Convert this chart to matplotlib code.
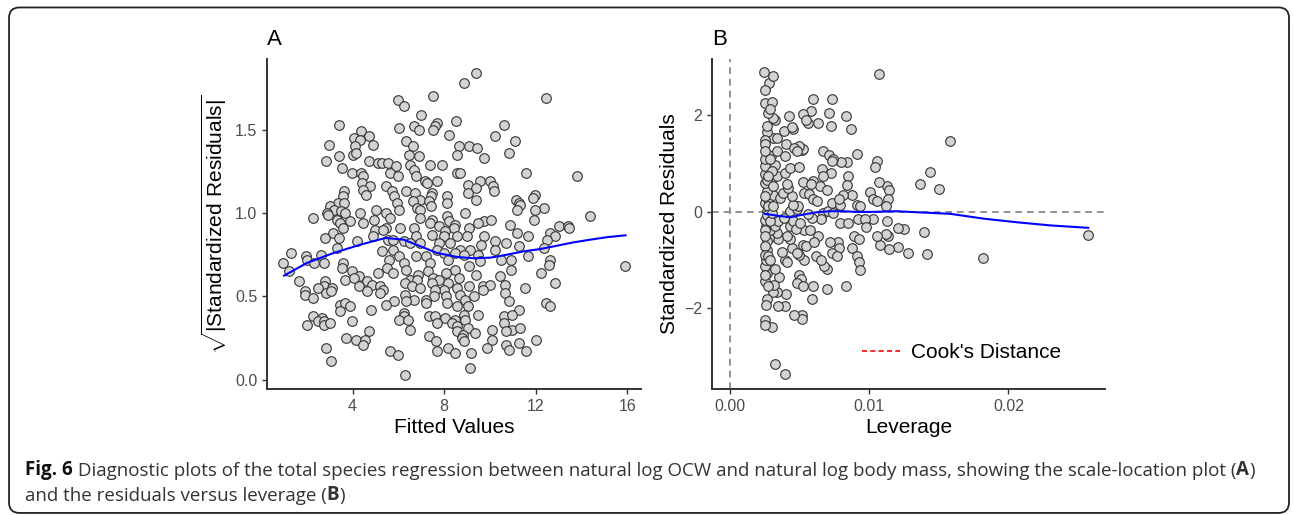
import matplotlib
matplotlib.use("Agg")
import matplotlib.pyplot as plt
from matplotlib.patches import FancyBboxPatch

# Panel A: scale-location (fitted value, sqrt|std residual|)
scale_loc_pts = [
	(9.41, 1.84), (8.85, 1.78), (12.44, 1.69), (7.50, 1.70), (5.97, 1.68), (6.23, 1.64), (6.99, 1.59),
	(3.39, 1.53), (8.52, 1.55), (10.60, 1.53), (7.69, 1.54), (7.62, 1.52), (6.67, 1.52), (6.89, 1.50),
	(6.01, 1.51), (7.51, 1.50), (4.36, 1.49), (4.04, 1.45), (4.73, 1.46), (4.34, 1.44), (10.24, 1.46),
	(8.23, 1.47), (2.98, 1.41), (11.11, 1.43), (4.90, 1.41), (6.35, 1.43), (8.64, 1.40), (9.07, 1.40),
	(9.44, 1.39), (4.12, 1.40), (6.62, 1.40), (10.82, 1.36), (8.57, 1.35), (6.45, 1.35), (6.89, 1.34),
	(3.40, 1.34), (4.01, 1.35), (4.15, 1.36), (9.76, 1.33), (2.85, 1.31), (4.70, 1.31), (5.09, 1.30),
	(5.28, 1.30), (5.53, 1.30), (5.90, 1.28), (6.52, 1.29), (7.37, 1.29), (7.89, 1.29), (3.53, 1.27),
	(6.67, 1.26), (5.65, 1.24), (3.97, 1.24), (4.36, 1.24), (8.57, 1.24), (8.69, 1.24), (11.59, 1.24),
	(4.47, 1.22), (5.97, 1.22), (6.77, 1.22), (13.81, 1.22), (7.15, 1.19), (7.69, 1.19), (10.02, 1.19),
	(9.55, 1.19), (4.42, 1.18), (7.27, 1.18), (3.61, 1.13), (4.74, 1.16), (4.47, 1.14), (5.47, 1.16),
	(9.03, 1.17), (10.14, 1.16), (9.41, 1.15), (10.17, 1.13), (5.71, 1.13), (6.35, 1.13), (4.58, 1.11),
	(6.74, 1.12), (7.47, 1.12), (9.06, 1.12), (11.14, 1.08), (11.96, 1.11), (3.57, 1.10), (5.80, 1.10),
	(7.44, 1.10), (8.13, 1.10), (6.96, 1.08), (11.87, 1.09), (11.25, 1.06), (11.30, 1.05), (8.13, 1.06),
	(9.41, 1.08), (3.34, 1.06), (3.64, 1.06), (5.94, 1.06), (6.64, 1.07), (7.32, 1.07), (3.02, 1.04),
	(7.42, 1.04), (6.80, 1.03), (3.17, 1.02), (2.88, 1.00), (3.50, 1.01), (4.31, 1.00), (5.02, 1.02),
	(5.47, 1.00), (6.01, 1.02), (6.96, 1.02), (11.16, 1.02), (12.38, 1.03), (11.96, 1.02), (14.39, 0.98),
	(2.27, 0.97), (3.66, 1.00), (2.92, 0.99), (5.62, 0.97), (6.93, 0.97), (8.13, 0.98), (8.90, 1.00),
	(3.31, 0.96), (3.87, 0.95), (4.92, 0.96), (7.47, 0.96), (9.73, 0.95), (9.47, 0.94), (10.06, 0.96),
	(11.92, 0.96), (3.46, 0.94), (4.47, 0.94), (7.40, 0.94), (8.20, 0.95), (8.49, 0.93), (10.89, 0.93),
	(13.01, 0.92), (13.42, 0.92), (13.47, 0.91), (3.56, 0.91), (5.47, 0.91), (6.08, 0.91), (6.70, 0.91),
	(7.76, 0.92), (8.42, 0.91), (9.07, 0.91), (3.15, 0.88), (4.99, 0.90), (5.33, 0.90), (8.05, 0.89),
	(11.18, 0.88), (12.64, 0.88), (11.67, 0.86), (2.80, 0.85), (3.39, 0.85), (4.89, 0.86), (5.55, 0.84),
	(5.76, 0.84), (6.78, 0.86), (7.47, 0.87), (8.01, 0.86), (8.56, 0.86), (9.00, 0.86), (9.73, 0.86),
	(12.82, 0.86), (4.19, 0.83), (10.24, 0.83), (10.68, 0.82), (12.47, 0.84), (6.23, 0.83), (6.52, 0.82),
	(6.93, 0.82), (7.76, 0.82), (8.27, 0.82), (9.60, 0.81), (3.31, 0.79), (5.78, 0.78), (7.69, 0.78),
	(8.68, 0.78), (9.12, 0.78), (10.21, 0.78), (11.25, 0.80), (12.38, 0.79), (1.32, 0.76), (2.62, 0.75),
	(5.28, 0.77), (7.98, 0.76), (8.49, 0.76), (8.85, 0.75), (9.48, 0.75), (11.65, 0.74), (1.97, 0.74),
	(5.57, 0.72), (6.01, 0.74), (6.78, 0.74), (7.21, 0.74), (8.15, 0.72), (10.50, 0.72), (10.92, 0.72),
	(12.62, 0.72), (0.98, 0.70), (2.00, 0.72), (3.56, 0.70), (2.76, 0.70), (6.23, 0.70), (7.37, 0.70),
	(9.07, 0.68), (9.55, 0.71), (12.58, 0.69), (15.88, 0.68), (2.30, 0.70), (3.53, 0.67), (5.50, 0.67),
	(6.35, 0.66), (7.29, 0.65), (8.49, 0.66), (10.93, 0.66), (1.24, 0.65), (3.97, 0.65), (5.78, 0.64),
	(5.09, 0.64), (6.86, 0.63), (8.07, 0.64), (9.40, 0.63), (12.21, 0.64), (4.26, 0.62), (6.52, 0.60),
	(7.51, 0.61), (10.45, 0.62), (3.65, 0.60), (4.04, 0.61), (7.76, 0.60), (8.64, 0.61), (1.64, 0.59),
	(2.80, 0.59), (4.63, 0.59), (6.30, 0.58), (6.81, 0.60), (8.15, 0.58), (12.83, 0.58), (4.85, 0.57),
	(7.47, 0.58), (2.73, 0.56), (4.26, 0.56), (5.18, 0.56), (6.59, 0.56), (6.96, 0.55), (8.01, 0.54),
	(8.56, 0.55), (9.07, 0.56), (9.68, 0.56), (10.00, 0.57), (10.64, 0.57), (11.51, 0.55), (2.48, 0.55),
	(3.10, 0.55), (5.33, 0.54), (7.59, 0.54), (9.70, 0.54), (1.90, 0.53), (4.64, 0.53), (2.83, 0.52),
	(3.07, 0.53), (5.21, 0.52), (6.30, 0.51), (7.54, 0.50), (8.06, 0.50), (8.71, 0.51), (9.32, 0.50),
	(10.66, 0.52), (1.93, 0.51), (6.67, 0.48), (7.19, 0.48), (8.93, 0.48), (2.28, 0.49), (12.43, 0.46),
	(10.82, 0.47), (5.82, 0.47), (6.35, 0.47), (8.14, 0.46), (3.43, 0.45), (3.68, 0.46), (3.90, 0.44),
	(5.47, 0.45), (7.19, 0.46), (8.56, 0.44), (9.04, 0.44), (12.62, 0.44), (3.46, 0.41), (4.82, 0.42),
	(6.23, 0.40), (11.26, 0.42), (2.28, 0.38), (2.67, 0.37), (8.87, 0.39), (9.49, 0.39), (6.23, 0.38),
	(7.34, 0.38), (8.03, 0.37), (7.59, 0.38), (10.62, 0.38), (10.95, 0.39), (2.48, 0.35), (2.77, 0.35),
	(3.97, 0.35), (6.04, 0.36), (6.42, 0.36), (8.46, 0.36), (8.90, 0.36), (1.99, 0.33), (2.74, 0.33),
	(3.00, 0.34), (7.69, 0.34), (8.34, 0.34), (10.60, 0.34), (8.57, 0.32), (9.04, 0.31), (10.10, 0.30),
	(10.97, 0.30), (11.30, 0.31), (6.49, 0.30), (4.73, 0.29), (10.68, 0.29), (9.35, 0.28), (8.56, 0.29),
	(8.83, 0.27), (7.34, 0.26), (3.72, 0.25), (4.16, 0.24), (4.55, 0.24), (8.76, 0.25), (11.99, 0.24),
	(10.10, 0.24), (8.85, 0.23), (7.63, 0.23), (4.47, 0.21), (10.68, 0.21), (11.27, 0.22), (2.83, 0.19),
	(9.87, 0.19), (8.15, 0.19), (10.82, 0.18), (11.59, 0.17), (5.65, 0.17), (7.69, 0.17), (5.97, 0.15),
	(8.49, 0.16), (9.15, 0.16), (3.07, 0.11), (9.12, 0.07), (6.27, 0.03),
]

# loess smooth drawn on panel A
smooth_a_x = [1.01, 2.0, 3.17, 4.34, 5.43, 6.23, 6.96, 7.69, 8.56, 9.29, 10.02, 10.75, 11.48, 12.21, 12.94, 13.66, 14.39, 15.12, 15.92]
smooth_a_y = [0.624, 0.70, 0.76, 0.81, 0.85, 0.84, 0.80, 0.76, 0.736, 0.728, 0.732, 0.75, 0.77, 0.784, 0.804, 0.824, 0.84, 0.855, 0.866]

# Panel B: residuals vs leverage (leverage, std residual)
leverage_pts = [
	(0.01074, 2.85), (0.02573, -0.47), (0.01818, -0.955), (0.01583, 1.48), (0.01434, 0.83), (0.01367, 0.58),
	(0.01501, 0.48), (0.01391, -0.415), (0.01415, -0.865), (0.01278, -0.85), (0.01247, -0.35), (0.01204, -0.34),
	(0.01211, -0.73), (0.01146, -0.77), (0.01132, -0.19), (0.01139, -0.505), (0.01122, -0.46), (0.01079, -0.69),
	(0.01055, -0.49), (0.01031, -0.145), (0.01127, 0.53), (0.01146, 0.46), (0.01139, 0.26), (0.01122, 0.13),
	(0.01074, 0.62), (0.01055, 1.05), (0.01043, 0.93), (0.01007, 0.41), (0.01026, 0.26), (0.01055, 0.22),
	(0.00916, 1.19), (0.00868, 1.71), (0.00835, 1.99), (0.00839, 1.03), (0.00796, 1.03), (0.00847, 0.74),
	(0.00844, 0.55), (0.00875, 0.36), (0.00911, 0.15), (0.00935, 0.12), (0.00923, -0.14), (0.00971, -0.14),
	(0.00978, -0.31), (0.00892, -0.505), (0.00930, -0.56), (0.00880, -0.75), (0.00911, -0.92), (0.00930, -1.04),
	(0.00935, -1.21), (0.00835, -1.54), (0.00791, -0.24), (0.00851, -0.24), (0.00779, -0.63), (0.00787, -0.75),
	(0.00719, -0.63), (0.00731, -0.85), (0.00767, -0.92), (0.00700, -1.60), (0.00695, -1.18), (0.00676, -1.13),
	(0.00619, -0.92), (0.00652, -0.99), (0.00635, -0.49), (0.00671, -0.02), (0.00652, -0.145), (0.00707, 0.01),
	(0.00739, -0.02), (0.00731, 0.19), (0.00791, 0.15), (0.00815, 0.36), (0.00787, 0.26), (0.00731, 2.33),
	(0.00712, 2.04), (0.00724, 1.79), (0.00635, 1.85), (0.00595, 2.33), (0.00583, 2.10), (0.00564, 1.85),
	(0.00528, 2.03), (0.00516, 1.29), (0.00528, 1.31), (0.00499, 1.36), (0.00667, 1.27), (0.00715, 1.17),
	(0.00743, 1.09), (0.00731, 1.05), (0.00660, 0.88), (0.00726, 0.80), (0.00671, 0.75), (0.00600, 0.65),
	(0.00647, 0.53), (0.00695, 0.46), (0.00523, 0.62), (0.00583, 0.57), (0.00533, 0.39), (0.00571, 0.38),
	(0.00600, 0.26), (0.00624, 0.22), (0.00588, -0.125), (0.00564, -0.035), (0.00533, -0.37), (0.00576, -0.37),
	(0.00523, -0.68), (0.00547, -0.70), (0.00604, -0.63), (0.00533, -0.99), (0.00499, -0.89), (0.00499, -1.30),
	(0.00508, -1.40), (0.00480, -1.47), (0.00523, -1.54), (0.00595, -1.54), (0.00588, -1.81), (0.00516, -2.13),
	(0.00516, -2.21), (0.00460, -2.13), (0.00396, -1.94), (0.00348, -1.94), (0.00403, -1.70), (0.00341, -1.67),
	(0.00312, -1.65), (0.00324, -3.16), (0.00396, -3.36), (0.00300, -2.39), (0.00252, -2.24), (0.00252, -2.34),
	(0.00264, -1.81), (0.00259, -1.92), (0.00252, -1.44), (0.00264, -1.27), (0.00252, -1.13), (0.00259, -0.99),
	(0.00355, -1.34), (0.00324, -1.18), (0.00317, -1.51), (0.00396, -0.99), (0.00412, -1.04), (0.00372, -0.84),
	(0.00444, -0.75), (0.00480, -0.85), (0.00432, -0.57), (0.00408, -0.49), (0.00348, -0.57), (0.00336, -0.44),
	(0.00283, -0.54), (0.00264, -0.78), (0.00269, -0.61), (0.00288, -0.37), (0.00259, -0.30), (0.00324, -0.30),
	(0.00348, -0.19), (0.00432, -0.30), (0.00456, -0.19), (0.00475, -0.35), (0.00504, -0.24), (0.00388, -0.125),
	(0.00432, 0.01), (0.00480, 0.05), (0.00492, 0.12), (0.00451, 0.15), (0.00252, -0.16), (0.00264, 0.01),
	(0.00252, 0.19), (0.00276, 0.26), (0.00307, 0.36), (0.00360, 0.29), (0.00384, 0.39), (0.00444, 0.33),
	(0.00415, 0.50), (0.00408, 0.57), (0.00264, 0.43), (0.00252, 0.60), (0.00300, 0.71), (0.00341, 0.74),
	(0.00252, 0.78), (0.00252, 0.95), (0.00269, 1.19), (0.00293, 1.16), (0.00252, 1.09), (0.00324, 0.98),
	(0.00396, 0.81), (0.00432, 0.91), (0.00496, 0.93), (0.00336, 1.26), (0.00403, 1.40), (0.00396, 1.16),
	(0.00460, 1.33), (0.00480, 1.26), (0.00312, 1.54), (0.00341, 1.54), (0.00391, 1.67), (0.00456, 1.72),
	(0.00444, 1.76), (0.00427, 1.99), (0.00547, 1.90), (0.00264, 1.65), (0.00269, 1.79), (0.00252, 1.50),
	(0.00252, 1.40), (0.00252, 1.26), (0.00324, 1.90), (0.00312, 1.95), (0.00276, 2.04), (0.00252, 2.26),
	(0.00300, 2.28), (0.00283, 2.68), (0.00307, 2.82), (0.00247, 2.89), (0.00252, 2.53), (0.00288, 2.14),
	(0.00252, -0.37), (0.00252, -0.50), (0.00252, -0.71), (0.00252, -0.89), (0.00264, 0.67), (0.00252, 0.33),
	(0.00276, 0.12), (0.00264, -0.06), (0.00288, -0.19), (0.00276, -0.92), (0.00252, -1.31), (0.00276, -1.54),
	(0.00288, -0.99), (0.00300, -0.02), (0.00312, 0.12), (0.00300, 0.84), (0.00288, 1.09), (0.00276, 0.74),
	(0.00312, 0.53),
]

smooth_b_x = [0.00252, 0.00336, 0.00432, 0.00528, 0.00624, 0.00719, 0.00815, 0.00911, 0.01007, 0.01103, 0.01199, 0.01295, 0.01439, 0.01583, 0.01823, 0.02062, 0.02302, 0.02573]
smooth_b_y = [-0.04, -0.076, -0.11, -0.055, -0.007, 0.014, 0.014, 0.0, 0.0, 0.007, 0.014, 0.0, -0.02, -0.04, -0.14, -0.215, -0.28, -0.33]

caption_line1 = ' Diagnostic plots of the total species regression between natural log OCW and natural log body mass, showing the scale-location plot ('
caption_line2 = 'and the residuals versus leverage ('

plt.rcParams['font.family'] = ['Liberation Sans', 'DejaVu Sans']
plt.rcParams['mathtext.fontset'] = 'custom'
plt.rcParams['mathtext.rm'] = 'Liberation Sans'

TICK_GREY = '#4d4d4d'
AXIS_DARK = '#333333'
CAP_FONT = ['Open Sans', 'DejaVu Sans']
CAP_SIZE = 13.5
CAP_COLOR = '#333333'


def style_axes(ax):
	for side in ['top', 'right']:
		ax.spines[side].set_visible(False)
	for side in ['left', 'bottom']:
		ax.spines[side].set_color(AXIS_DARK)
		ax.spines[side].set_linewidth(1.4)
	ax.tick_params(colors=AXIS_DARK, labelcolor=TICK_GREY, labelsize=11.5, length=3.5, width=1.0)


def scatter(ax, pts):
	xs = [p[0] for p in pts]
	ys = [p[1] for p in pts]
	ax.scatter(xs, ys, s=48, facecolor='#d3d3d3', edgecolor='#333333', linewidths=0.8, zorder=3)


def chain_text(prev, pieces):
	# put each piece right after the previous one on the same line
	for txt, w in pieces:
		prev = plt.annotate(txt, xy=(1, 0), xycoords=prev, fontsize=CAP_SIZE, fontweight=w,
			family=CAP_FONT, color=CAP_COLOR, va='bottom', ha='left', annotation_clip=False)
	return prev


fig = plt.figure(figsize=(12.93, 5.15), dpi=100)

# rounded border round the whole figure
border = FancyBboxPatch((0.0070, 0.004), 0.9899, 0.9815, boxstyle="round,pad=0,rounding_size=0.008",
	mutation_aspect=1293 / 515, transform=fig.transFigure, facecolor='none', edgecolor='#222222', linewidth=1.3)
fig.patches.append(border)

# panel A
axA = fig.add_axes([0.2065, 0.2447, 0.2893, 0.6408])
style_axes(axA)
scatter(axA, scale_loc_pts)
axA.plot(smooth_a_x, smooth_a_y, color='#0000ff', lw=1.5, zorder=4)
axA.set_xlim(0.26, 16.6)
axA.set_ylim(-0.056, 1.924)
axA.set_xticks([4, 8, 12, 16])
axA.set_yticks([0.0, 0.5, 1.0, 1.5])
axA.set_yticklabels(['0.0', '0.5', '1.0', '1.5'])
axA.set_xlabel('Fitted Values', fontsize=15, labelpad=3)
axA.set_ylabel(r'$\sqrt{|\mathrm{Standardized\ Residuals}|}$', fontsize=15, labelpad=4)
axA.set_title('A', loc='left', fontsize=16, pad=10)

# panel B
axB = fig.add_axes([0.5507, 0.2447, 0.304, 0.6408])
style_axes(axB)
axB.axhline(0, color='#808080', lw=1.2, ls=(0, (4, 3)), zorder=1)
axB.axvline(0, color='#808080', lw=1.2, ls=(0, (4, 3)), zorder=1)
scatter(axB, leverage_pts)
axB.plot(smooth_b_x, smooth_b_y, color='#0000ff', lw=1.5, zorder=4)
axB.plot([], [], color='red', ls=(0, (3, 2)), lw=1.2, label="Cook's Distance")
axB.set_xlim(-0.00127, 0.02694)
axB.set_ylim(-3.67, 3.17)
axB.set_xticks([0.0, 0.01, 0.02])
axB.set_xticklabels(['0.00', '0.01', '0.02'])
axB.set_yticks([-2, 0, 2])
axB.set_xlabel('Leverage', fontsize=15, labelpad=3)
axB.set_ylabel('Standardized Residuals', fontsize=15, labelpad=4)
axB.set_title('B', loc='left', fontsize=16, pad=10)
axB.legend(loc='center left', bbox_to_anchor=(0.382, 0.11), frameon=False, fontsize=15,
	handlelength=1.8, handletextpad=0.55, borderpad=0, borderaxespad=0)

# caption
t1 = fig.text(0.0193, 0.068, 'Fig. 6', fontsize=CAP_SIZE, fontweight='bold', family=CAP_FONT,
	color='#111111', va='bottom')
chain_text(t1, [(caption_line1, 'normal'), ('A', 'bold'), (')', 'normal')])
t2 = fig.text(0.0193, 0.020, caption_line2, fontsize=CAP_SIZE, family=CAP_FONT, color=CAP_COLOR, va='bottom')
chain_text(t2, [('B', 'bold'), (')', 'normal')])

fig.savefig('out.png', dpi=100)
